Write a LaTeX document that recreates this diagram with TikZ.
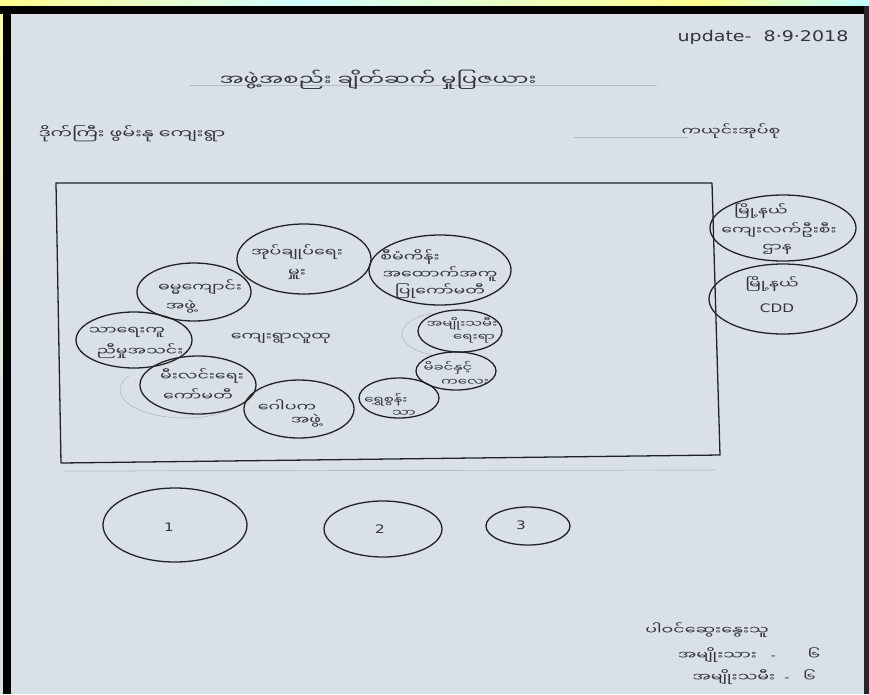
\documentclass[tikz,border=0pt]{standalone}
\usepackage{fontspec}
\newfontfamily\mmfont[Script=Myanmar,FakeStretch=1.55]{Noto Sans Myanmar UI}
\newfontfamily\latfont[FakeStretch=1.3]{DejaVu Sans}
\usetikzlibrary{shapes.geometric}
\definecolor{paper}{HTML}{D9E0E6}
\definecolor{ink}{HTML}{222226}
\definecolor{textink}{HTML}{34343C}
\definecolor{faint}{HTML}{B4BCC3}
\tikzset{
  ring/.style={ellipse, draw=ink, line width=1.1pt, inner sep=0pt},
  mm/.style={font=\mmfont\fontsize{9.6}{11}\selectfont, text=textink, inner sep=0pt, anchor=center},
  mmsmall/.style={font=\mmfont\fontsize{8.2}{9}\selectfont, text=textink, inner sep=0pt, anchor=center},
  mmmid/.style={font=\mmfont\fontsize{10.5}{12}\selectfont, text=textink, inner sep=0pt, anchor=center},
  mmbig/.style={font=\mmfont\fontsize{12.5}{14}\selectfont, text=textink, inner sep=0pt, anchor=center},
  lat/.style={font=\latfont\fontsize{10}{11}\selectfont, text=textink, inner sep=0pt, anchor=center},
  latbig/.style={font=\latfont\fontsize{12.5}{14}\selectfont, text=textink, inner sep=0pt, anchor=center},
  guide/.style={draw=faint, line width=0.6pt},
  pencil/.style={draw=faint, line width=0.5pt},
  boxline/.style={draw=ink, line width=1.1pt, line join=round}
}
\begin{document}
\begin{tikzpicture}[x=0.03cm,y=-0.03cm]
% page and photo edges
\useasboundingbox (0,0) rectangle (869,694);
\fill[paper] (0,0) rectangle (869,694);
\shade[left color=yellow!45, right color=cyan!18] (0,0) rectangle (300,6);
\shade[left color=cyan!18, right color=yellow!45] (300,0) rectangle (700,6);
\shade[left color=yellow!45, right color=cyan!25] (700,0) rectangle (869,6);
\shade[top color=yellow!35, bottom color=paper] (0,6) rectangle (3,400);
\fill[black] (0,6) rectangle (869,14);
\fill[black] (3,6) rectangle (11,694);
\fill[black!85] (864,6) rectangle (869,694);

% guide lines on the sheet
\draw[guide] (190,85) -- (657,85);
\draw[guide] (574,137) -- (688,137);
\draw[guide] (64,471) -- (715,470);

% header texts
\node[latbig] (upd) at (763,37) {update-~~8·9·2018};
\node[mmbig] (title) at (378,80) {အဖွဲ့အစည်း ချိတ်ဆက် မှုပြဇယား};
\node[mmmid] (village) at (132,134) {ဒိုက်ကြီး ဖွမ်းနု ကျေးရွာ};
\node[mm] (tract) at (731,131) {ကယုင်းအုပ်စု};

% hand drawn frame
\coordinate (r1) at (56,183);
\coordinate (r2) at (712,183);
\coordinate (r3) at (720,455);
\coordinate (r4) at (61,463);
\draw[boxline] (r1) -- (r2) -- (r3) -- (r4) -- cycle;

% faint pencil arcs
\draw[pencil] (185,390) ++(40:65 and 28) arc[start angle=40, end angle=210, x radius=65, y radius=28];
\draw[pencil] (447,334) ++(110:45 and 22) arc[start angle=110, end angle=250, x radius=45, y radius=22];

% circles inside the frame
\node[ring, minimum width=4.02cm, minimum height=2.10cm] (c1) at (304,259) {};
\node[ring, minimum width=4.26cm, minimum height=2.10cm] (c2) at (440,270) {};
\node[ring, minimum width=3.42cm, minimum height=1.74cm] (c3) at (194,292) {};
\node[ring, minimum width=3.48cm, minimum height=1.68cm] (c4) at (134,340) {};
\node[ring, minimum width=3.48cm, minimum height=1.74cm] (c5) at (198,385) {};
\node[ring, minimum width=3.30cm, minimum height=1.74cm] (c6) at (299,409) {};
\node[ring, minimum width=2.40cm, minimum height=1.20cm] (c7) at (399,398) {};
\node[ring, minimum width=2.40cm, minimum height=1.14cm] (c8) at (456,371) {};
\node[ring, minimum width=2.52cm, minimum height=1.26cm] (c9) at (460,331) {};

% circles outside the frame
\node[ring, minimum width=4.38cm, minimum height=1.98cm] (c10) at (783,228) {};
\node[ring, minimum width=4.44cm, minimum height=2.10cm] (c11) at (783,299) {};

% bottom circles
\node[ring, minimum width=4.32cm, minimum height=2.22cm] (b1) at (175,525) {};
\node[ring, minimum width=3.54cm, minimum height=1.68cm] (b2) at (383,529) {};
\node[ring, minimum width=2.52cm, minimum height=1.14cm] (b3) at (528,526) {};

% circle texts
\node[mm] (t1a) at (297,252) {အုပ်ချုပ်ရေး};
\node[mm] (t1b) at (297,274) {မှူး};
\node[mm] (t2a) at (410,257) {စီမံကိန်း};
\node[mm] (t2b) at (440,274) {အထောက်အကူ};
\node[mm] (t2c) at (440,291) {ပြုကော်မတီ};
\node[mm] (t3a) at (200,287) {ဓမ္မကျောင်း};
\node[mm] (t3b) at (181,307) {အဖွဲ့};
\node[mm] (t4a) at (127,332) {သာရေးကူ};
\node[mm] (t4b) at (140,351) {ညီမှုအသင်း};
\node[mm] (t5a) at (202,376) {မီးလင်းရေး};
\node[mm] (t5b) at (198,395) {ကော်မတီ};
\node[mm] (t6a) at (287,406) {ဂေါပက};
\node[mm] (t6b) at (306,421) {အဖွဲ့};
\node[mmsmall] (t7a) at (386,400) {ရွှေစွန်း};
\node[mmsmall] (t7b) at (404,413) {သာ};
\node[mmsmall] (t8a) at (448,368) {မိခင်နှင့်};
\node[mmsmall] (t8b) at (465,382) {ကလေး};
\node[mmsmall] (t9a) at (462,324) {အမျိုးသမီး};
\node[mmsmall] (t9b) at (474,339) {ရေးရာ};
\node[mm] (ctr) at (281,338) {ကျေးရွာလူထု};
\node[mm] (t10a) at (761,211) {မြို့နယ်};
\node[mm] (t10b) at (779,230) {ကျေးလက်ဦးစီး};
\node[mm] (t10c) at (777,249) {ဌာန};
\node[mm] (t11a) at (772,284) {မြို့နယ်};
\node[lat] (t11b) at (777,308) {CDD};
\node[lat] (n1) at (169,527) {1};
\node[lat] (n2) at (380,529) {2};
\node[lat] (n3) at (521,525) {3};

% participants
\node[mm] (part) at (707,630) {ပါဝင်ဆွေးနွေးသူ};
\node[mm] (male) at (749,655) {အမျိုးသား~~~{\latfont -}~~~~~~~၆};
\node[mm] (female) at (754,677) {အမျိုးသမီး~~{\latfont -}~~~၆};
\end{tikzpicture}
\end{document}
